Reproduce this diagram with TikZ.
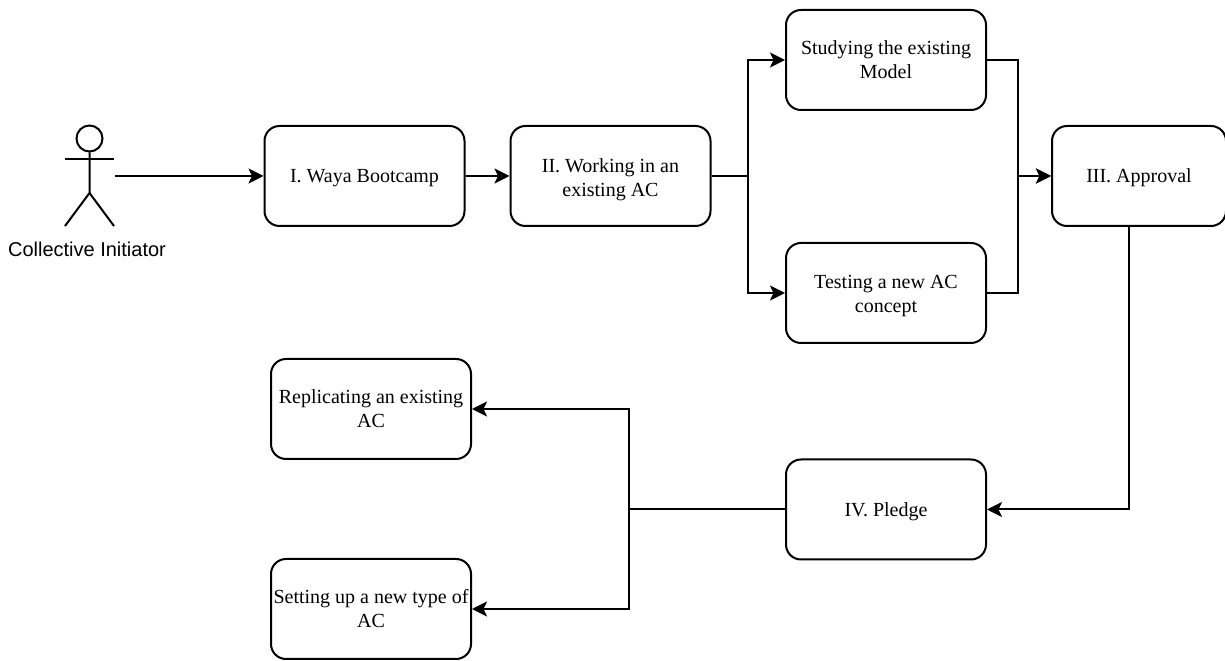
\documentclass[tikz,border=0pt]{standalone}
\usepackage{fontspec}
\setmainfont{Liberation Serif}
\newfontfamily\labelfont{Liberation Sans}
\usetikzlibrary{arrows.meta}
\usetikzlibrary{positioning}

\begin{document}
\begin{tikzpicture}
  \tikzset{stagebox/.style = {shape=rectangle,draw,rounded corners=0.3cm,line width=0.04cm,minimum width=4cm,minimum height=2cm,inner sep=0pt,align=center,font=\fontsize{11.38}{13.66}\selectfont,execute at begin node={\rule{0pt}{10.2pt}}}}
  \tikzset{edge/.style = {line width=0.04cm,-tipA}}
  \tikzset{limb/.style = {line width=0.04cm}}
  \tikzset{%
  tipA/.tip={Stealth[length=0.3cm,width=0.3cm,inset=0.07cm]},
}
  \useasboundingbox (0,0) rectangle (24.5,13.22);

	\node[stagebox] (B) at (7.29,9.70) {I. Waya Bootcamp};
	\node[stagebox] (W) at (12.21,9.70) {\rule{0pt}{11.6pt}II. Working in an\\existing AC};
	\node[stagebox] (S) at (17.72,12.02) {Studying the existing\\Model};
	\node[stagebox] (T) at (17.72,7.36) {\rule{0pt}{10.6pt}Testing a new AC\\concept};
	\node[stagebox,minimum width=3.48cm] (A) at (22.78,9.70) {III. Approval};
	\node[stagebox] (P) at (17.72,3.03) {IV. Pledge};
	\node[stagebox] (R) at (7.42,5.04) {Replicating an existing\\AC};
	\node[stagebox] (N) at (7.42,1.04) {Setting up a new type of\\AC};

	% the actor
	\node[shape=circle,draw,line width=0.04cm,minimum size=0.52cm,inner sep=0pt] (head) at (1.79,10.45) {};
	\coordinate (neck) at (1.79,10.03);
	\coordinate (hip) at (1.79,9.36);
	\coordinate (armL) at (1.30,10.03);
	\coordinate (armR) at (2.28,10.03);
	\coordinate (footL) at (1.30,8.70);
	\coordinate (footR) at (2.28,8.70);
	\coordinate (hand) at (2.30,9.70);
	\draw[limb] (head) -- (hip) -- (footL);
	\draw[limb] (hip) -- (footR);
	\draw[limb] (armL) -- (armR);
	\node[font=\labelfont\fontsize{11.38}{13.66}\selectfont] (actor) at (1.74,8.24) {Collective Initiator};

	\coordinate (jW) at (14.96,9.70);
	\coordinate (jA) at (20.36,9.70);
	\coordinate (jP) at (12.58,3.03);
	\coordinate (jD) at (22.58,3.03);

    \foreach \from/\to in {hand/B, B/W}
    \path[edge](\from) edge (\to);

    \foreach \to in {S, T}
    \draw[edge] (W.east) -- (jW) |- (\to.west);

    \foreach \from in {S, T}
    \draw[edge] (\from.east) -| (jA) -- (A.west);

    \draw[edge] (jD |- A.south) -- (jD) -- (P.east);

    \foreach \to in {R, N}
    \draw[edge] (P.west) -- (jP) |- (\to.east);

\end{tikzpicture}
\end{document}
